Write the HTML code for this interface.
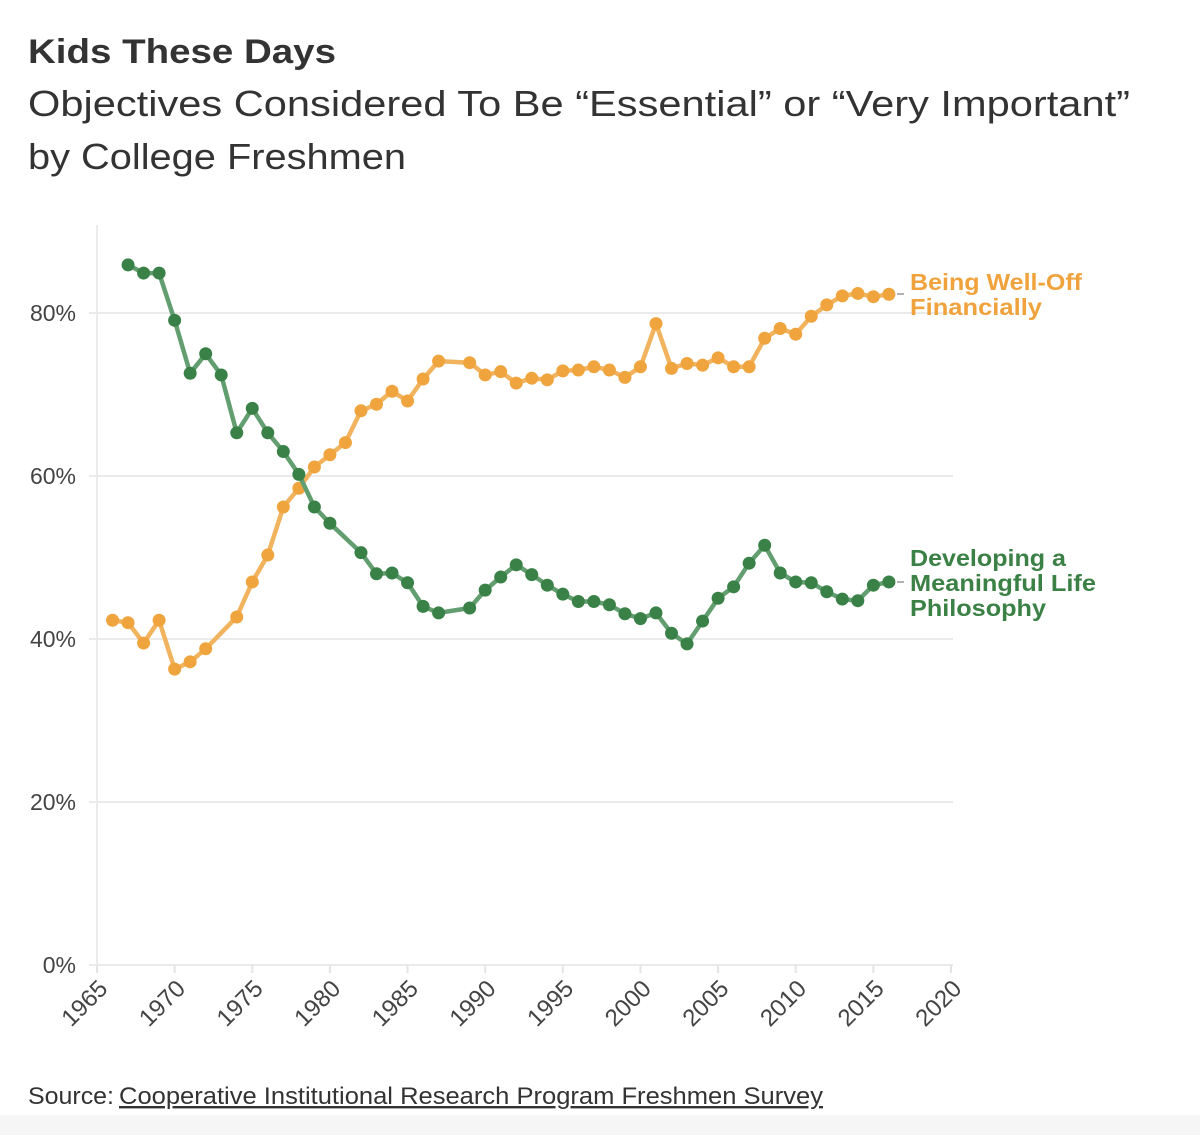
<!DOCTYPE html>
<html><head><meta charset="utf-8"><style>
html,body{margin:0;padding:0;background:#fff;}
svg{display:block;font-family:"Liberation Sans",sans-serif;}
</style></head><body>
<svg id="chart" width="1200" height="1135" viewBox="0 0 1200 1135">
<rect x="0" y="1115" width="1200" height="20" fill="#f6f6f6"/>
<text x="28" y="63" font-size="34" font-weight="bold" fill="#333" textLength="308" lengthAdjust="spacingAndGlyphs">Kids These Days</text>
<text x="28" y="116" font-size="36" fill="#333" textLength="1102" lengthAdjust="spacingAndGlyphs">Objectives Considered To Be “Essential” or “Very Important”</text>
<text x="28" y="169" font-size="36" fill="#333" textLength="378" lengthAdjust="spacingAndGlyphs">by College Freshmen</text>
<g id="grid"></g><g id="axes"></g><g id="series"></g>
<line x1="897" y1="294" x2="904" y2="294" stroke="#999" stroke-width="1.5"/>
<text x="910" y="290" font-size="23" font-weight="bold" fill="#f0a23c"><tspan x="910" textLength="172" lengthAdjust="spacingAndGlyphs">Being Well-Off</tspan><tspan x="910" dy="25" textLength="132" lengthAdjust="spacingAndGlyphs">Financially</tspan></text>
<line x1="897" y1="582" x2="904" y2="582" stroke="#999" stroke-width="1.5"/>
<text x="910" y="566" font-size="23" font-weight="bold" fill="#3b8146"><tspan x="910" textLength="156" lengthAdjust="spacingAndGlyphs">Developing a</tspan><tspan x="910" dy="25" textLength="186" lengthAdjust="spacingAndGlyphs">Meaningful Life</tspan><tspan x="910" dy="25" textLength="136" lengthAdjust="spacingAndGlyphs">Philosophy</tspan></text>
<text x="28" y="1104" font-size="24" fill="#333"><tspan textLength="86" lengthAdjust="spacingAndGlyphs">Source:</tspan> <tspan x="119" textLength="704" lengthAdjust="spacingAndGlyphs" text-decoration="underline">Cooperative Institutional Research Program Freshmen Survey</tspan></text>
</svg>
<script>
const finYears=[1966,1967,1968,1969,1970,1971,1972,1974,1975,1976,1977,1978,1979,1980,1981,1982,1983,1984,1985,1986,1987,1989,1990,1991,1992,1993,1994,1995,1996,1997,1998,1999,2000,2001,2002,2003,2004,2005,2006,2007,2008,2009,2010,2011,2012,2013,2014,2015,2016];
const finValues=[42.3,42.0,39.5,42.3,36.3,37.2,38.8,42.7,47.0,50.3,56.2,58.5,61.1,62.6,64.1,68.0,68.8,70.4,69.2,71.9,74.1,73.9,72.4,72.8,71.4,72.0,71.8,72.9,73.0,73.4,73.0,72.1,73.4,78.7,73.2,73.8,73.6,74.5,73.4,73.4,76.9,78.1,77.4,79.6,81.0,82.1,82.4,82.0,82.3];
const philYears=[1967,1968,1969,1970,1971,1972,1973,1974,1975,1976,1977,1978,1979,1980,1982,1983,1984,1985,1986,1987,1989,1990,1991,1992,1993,1994,1995,1996,1997,1998,1999,2000,2001,2002,2003,2004,2005,2006,2007,2008,2009,2010,2011,2012,2013,2014,2015,2016];
const philValues=[85.9,84.9,84.9,79.1,72.6,75.0,72.4,65.3,68.3,65.3,63.0,60.2,56.2,54.2,50.6,48.0,48.1,46.9,44.0,43.2,43.8,46.0,47.6,49.1,47.9,46.6,45.5,44.6,44.6,44.2,43.1,42.5,43.2,40.7,39.4,42.2,45.0,46.4,49.3,51.5,48.1,47.0,46.9,45.8,44.9,44.7,46.6,47.0];
const yTicks=[0,20,40,60,80];
const yTickLabels=["0%","20%","40%","60%","80%"];
const xTicks=[1965,1970,1975,1980,1985,1990,1995,2000,2005,2010,2015,2020];

const NS="http://www.w3.org/2000/svg";
const X0=97,X1=951,Y0=965,Y80=313;
function xScale(yr){return X0+(yr-1965)*(X1-X0)/55;}
function yScale(v){return Y0-v*(Y0-Y80)/80;}
function mk(tag,attrs,parent){const e=document.createElementNS(NS,tag);for(const k in attrs)e.setAttribute(k,attrs[k]);parent.appendChild(e);return e;}
const grid=document.getElementById('grid'),axes=document.getElementById('axes'),series=document.getElementById('series');
yTicks.forEach((t,i)=>{
  const y=yScale(t);
  const l=mk('line',{x1:X0-8,x2:953,y1:y,y2:y,stroke:'#ebebeb','stroke-width':2},grid);
  
  
  const tx=mk('text',{x:76,y:y+8,'text-anchor':'end','font-size':23,fill:'#444'},axes);
  tx.textContent=yTickLabels[i];
  
  
});
const ya=mk('line',{x1:X0,x2:X0,y1:225,y2:972,stroke:'#ebebeb','stroke-width':2},axes);


xTicks.forEach(t=>{
  const x=xScale(t);
  const tk=mk('line',{x1:x,x2:x,y1:965,y2:973,stroke:'#e4e4e4','stroke-width':2},axes);
  
  
  const tx=mk('text',{x:x+12,y:990,'text-anchor':'end','font-size':24,fill:'#444',transform:`rotate(-45 ${x+12} 990)`},axes);
  tx.textContent=t;
  
  
});
function draw(years,vals,lineCol,dotCol,name){
  const d=years.map((yr,i)=>(i?'L':'M')+xScale(yr).toFixed(1)+' '+yScale(vals[i]).toFixed(1)).join(' ');
  const p=mk('path',{d:d,fill:'none',stroke:lineCol,'stroke-width':4.5,'stroke-linejoin':'round'},series);
  
  
  years.forEach((yr,i)=>{
    const c=mk('circle',{cx:xScale(yr),cy:yScale(vals[i]),r:6.5,fill:dotCol},series);
    
    
  });
}
draw(finYears,finValues,'#f2b35e','#f0a43e','financial');
draw(philYears,philValues,'#629e6f','#3a8148','philosophy');
</script>
</body></html>
